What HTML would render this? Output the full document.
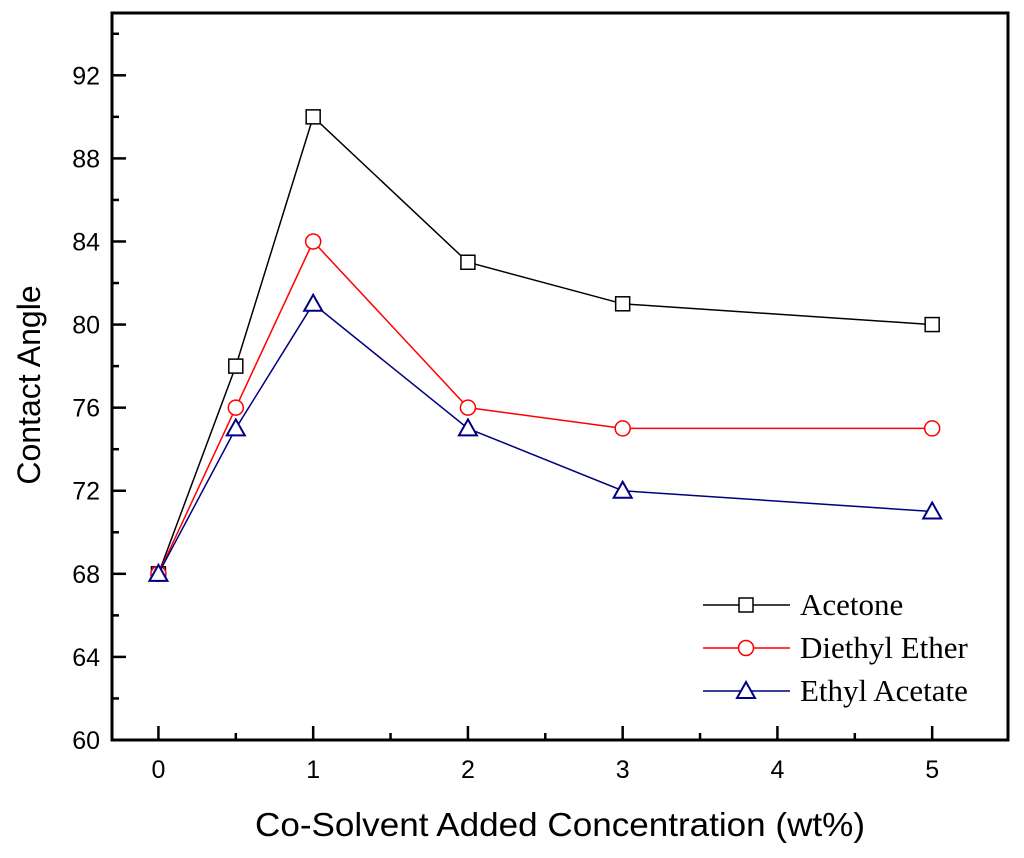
<!DOCTYPE html>
<html><head><meta charset="utf-8"><style>body{margin:0;background:#fff}svg{display:block}</style></head>
<body>
<svg id="chart" width="1024" height="858" xmlns="http://www.w3.org/2000/svg" font-family="Liberation Sans, Arial, sans-serif"></svg>
<script>
const xValues=[0,0.5,1,2,3,5];
const acetone=[68,78,90,83,81,80];
const diethylEther=[68,76,84,76,75,75];
const ethylAcetate=[68,75,81,75,72,71];
const xTicks=[0,1,2,3,4,5];
const yTicks=[60,64,68,72,76,80,84,88,92];
const seriesNames=["Acetone","Diethyl Ether","Ethyl Acetate"];
const L=112,R=1008,T=13,B=740,xmin=-0.3,xmax=5.49,ymin=60,ymax=95;
const sx=v=>L+(v-xmin)/(xmax-xmin)*(R-L);
const sy=v=>B-(v-ymin)/(ymax-ymin)*(B-T);
const svg=document.getElementById('chart');
const NS="http://www.w3.org/2000/svg";
function mk(tag,attrs,parent){const e=document.createElementNS(NS,tag);for(const k in attrs)e.setAttribute(k,attrs[k]);(parent||svg).appendChild(e);return e;}
for(let v=0;v<=5;v+=0.5){const major=Number.isInteger(v);const t=mk('line',{x1:sx(v),x2:sx(v),y1:B,y2:B-(major?14:7),stroke:'#000','stroke-width':2.5});

}
for(let v=60;v<=95;v+=2){const major=v%4===0;const t=mk('line',{x1:L,x2:L+(major?14:7),y1:sy(v),y2:sy(v),stroke:'#000','stroke-width':2.5});

}
xTicks.forEach(v=>{const t=mk('text',{x:sx(v),y:B+38,'font-size':25,'text-anchor':'middle'});t.textContent=v;

});
yTicks.forEach(v=>{const t=mk('text',{x:L-12,y:sy(v)+9,'font-size':25,'text-anchor':'end'});t.textContent=v;

});
const frame=mk('rect',{x:L,y:T,width:R-L,height:B-T,fill:'none',stroke:'#000','stroke-width':3});


const xt=mk('text',{x:560,y:836,'font-size':33,'text-anchor':'middle',textLength:610,lengthAdjust:'spacingAndGlyphs'});xt.textContent='Co-Solvent Added Concentration (wt%)';


const yt=mk('text',{x:0,y:0,'font-size':32,'text-anchor':'middle',transform:'translate(40,385) rotate(-90)'});yt.textContent='Contact Angle';


function marker(kind,x,y,color,g){
 if(kind==='square')return mk('rect',{x:x-7,y:y-7,width:14,height:14,fill:'#fff',stroke:color,'stroke-width':1.5},g);
 if(kind==='circle')return mk('circle',{cx:x,cy:y,r:7.5,fill:'#fff',stroke:color,'stroke-width':1.5},g);
 return mk('polygon',{points:`${x},${y-9} ${x-9},${y+7} ${x+9},${y+7}`,fill:'#fff',stroke:color,'stroke-width':2},g);
}
const series=[[acetone,'#000','square','acetone'],[diethylEther,'#ff0000','circle','diethyl-ether'],[ethylAcetate,'#000080','triangle','ethyl-acetate']];
series.forEach(([vals,color,kind,name],i)=>{
 const g=mk('g',{});
 
 
 const pl=mk('polyline',{points:vals.map((v,j)=>sx(xValues[j])+','+sy(v)).join(' '),fill:'none',stroke:color,'stroke-width':1.5},g);
 
 
 vals.forEach((v,j)=>{const m=marker(kind,sx(xValues[j]),sy(v),color,g);
 
 });
 const ly=605+i*43;
 const lg=mk('g',{});
 
 
 mk('line',{x1:703,x2:790,y1:ly,y2:ly,stroke:color,'stroke-width':1.5},lg);
 marker(kind,746,ly,color,lg);
 const lt=mk('text',{x:800,y:ly+10,'font-size':31,'font-family':'Liberation Serif, serif'},lg);lt.textContent=seriesNames[i];
});
</script>
</body></html>
